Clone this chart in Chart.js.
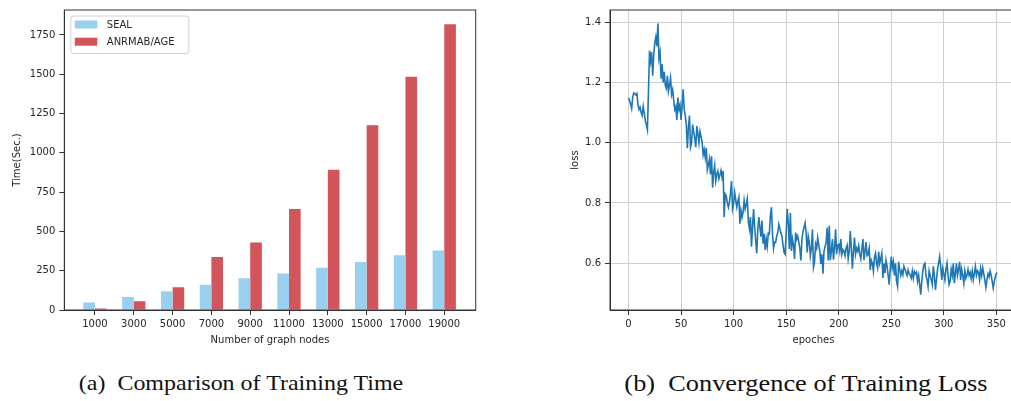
<!DOCTYPE html>
<html>
<head>
<meta charset="utf-8">
<script src="https://cdn.jsdelivr.net/npm/chart.js@4.4.1/dist/chart.umd.min.js"></script>
<style>
  html, body { margin: 0; background: #fff; overflow: hidden; }
  #page { position: relative; width: 1011px; height: 401px; overflow: hidden; }
  .box { position: absolute; top: 0; }
  .cap { position: absolute; top: 369px; width: 420px; text-align: center; line-height: 28px;
         font-family: 'Liberation Serif', serif; color: #111; white-space: pre; }
</style>
</head>
<body>
<div id="page">
<div class="box" style="left:0;width:500px;height:350px"><canvas id="timeChart" width="500" height="350"></canvas></div>
<div class="box" style="left:560px;width:520px;height:350px"><canvas id="lossChart" width="520" height="350"></canvas></div>
<div class="cap" style="left:31px;font-size:22px;transform:scaleX(1.09)">(a)  Comparison of Training Time</div>
<div class="cap" style="left:596px;font-size:24px;transform:scaleX(1.098)">(b)  Convergence of Training Loss</div>
</div>

<script>
// (a) training time per graph size
const nodeCounts = ['1000', '3000', '5000', '7000', '9000', '11000', '13000', '15000', '17000', '19000'];
const sealTime = [47, 83, 119, 160, 202, 233, 269, 306, 348, 379];
const anrmabTime = [10, 56, 144, 337, 429, 642, 892, 1175, 1484, 1818];
const timeTicks = [0, 250, 500, 750, 1000, 1250, 1500, 1750];

// (b) training loss per epoch
const lossTicks = [0.6, 0.8, 1.0, 1.2, 1.4];
const epochTicks = [0, 50, 100, 150, 200, 250, 300, 350];
const loss = [
  1.148, 1.140, 1.128, 1.113, 1.150, 1.165, 1.162, 1.158, 1.163, 1.125,
  1.110, 1.118, 1.100, 1.090, 1.120, 1.098, 1.072, 1.060, 1.043, 1.170,
  1.305, 1.270, 1.300, 1.222, 1.290, 1.330, 1.350, 1.320, 1.395, 1.280,
  1.300, 1.212, 1.260, 1.200, 1.235, 1.190, 1.180, 1.222, 1.170, 1.190,
  1.215, 1.160, 1.175, 1.140, 1.110, 1.120, 1.075, 1.150, 1.110, 1.125,
  1.075, 1.120, 1.177, 1.110, 1.090, 1.060, 0.982, 1.050, 1.090, 0.985,
  1.000, 1.060, 1.035, 1.015, 0.985, 1.055, 1.030, 1.000, 1.037, 1.020,
  1.004, 0.960, 0.977, 0.950, 0.983, 0.910, 0.928, 0.945, 0.895, 0.955,
  0.851, 0.900, 0.925, 0.873, 0.895, 0.906, 0.880, 0.893, 0.908, 0.885,
  0.906, 0.753, 0.830, 0.824, 0.800, 0.786, 0.802, 0.830, 0.873, 0.780,
  0.797, 0.835, 0.810, 0.786, 0.805, 0.819, 0.731, 0.775, 0.753, 0.770,
  0.808, 0.780, 0.795, 0.813, 0.740, 0.715, 0.753, 0.655, 0.720, 0.780,
  0.720, 0.677, 0.633, 0.710, 0.753, 0.720, 0.688, 0.742, 0.665, 0.698,
  0.644, 0.680, 0.655, 0.700, 0.698, 0.760, 0.786, 0.698, 0.649, 0.670,
  0.669, 0.690, 0.702, 0.729, 0.715, 0.700, 0.690, 0.660, 0.636, 0.630,
  0.700, 0.780, 0.735, 0.647, 0.767, 0.641, 0.680, 0.660, 0.614, 0.702,
  0.680, 0.690, 0.670, 0.650, 0.609, 0.680, 0.705, 0.720, 0.734, 0.700,
  0.636, 0.690, 0.670, 0.625, 0.650, 0.712, 0.587, 0.605, 0.663, 0.650,
  0.685, 0.660, 0.640, 0.598, 0.630, 0.565, 0.640, 0.655, 0.669, 0.718,
  0.609, 0.724, 0.610, 0.640, 0.680, 0.612, 0.650, 0.713, 0.630, 0.660,
  0.663, 0.640, 0.680, 0.630, 0.645, 0.640, 0.625, 0.650, 0.660, 0.615,
  0.640, 0.707, 0.650, 0.582, 0.640, 0.685, 0.630, 0.650, 0.640, 0.658,
  0.630, 0.615, 0.645, 0.680, 0.610, 0.640, 0.670, 0.625, 0.630, 0.650,
  0.578, 0.610, 0.600, 0.573, 0.620, 0.633, 0.600, 0.585, 0.638, 0.600,
  0.615, 0.633, 0.551, 0.600, 0.567, 0.610, 0.590, 0.560, 0.529, 0.580,
  0.622, 0.585, 0.605, 0.560, 0.600, 0.540, 0.523, 0.605, 0.580, 0.560,
  0.575, 0.562, 0.590, 0.580, 0.570, 0.560, 0.578, 0.565, 0.561, 0.551,
  0.575, 0.550, 0.573, 0.565, 0.570, 0.540, 0.560, 0.530, 0.496, 0.540,
  0.573, 0.595, 0.600, 0.560, 0.545, 0.523, 0.575, 0.560, 0.545, 0.529,
  0.590, 0.560, 0.512, 0.545, 0.580, 0.600, 0.622, 0.590, 0.545, 0.583,
  0.565, 0.545, 0.580, 0.600, 0.560, 0.529, 0.540, 0.580, 0.560, 0.600,
  0.534, 0.565, 0.600, 0.560, 0.580, 0.605, 0.545, 0.580, 0.560, 0.534,
  0.575, 0.550, 0.560, 0.580, 0.560, 0.570, 0.550, 0.575, 0.545, 0.565,
  0.590, 0.560, 0.575, 0.570, 0.545, 0.582, 0.560, 0.585, 0.565, 0.545,
  0.520, 0.545, 0.565, 0.555, 0.575, 0.560, 0.540, 0.518, 0.540, 0.555,
  0.567, 0.567
];

Chart.defaults.font.family = 'DejaVu Sans';
Chart.defaults.font.size = 10;
Chart.defaults.color = '#262626';
Chart.defaults.animation = false;

const spineColor = '#333';

// matplotlib-like box around the axes
const framePlugin = {
  id: 'frame',
  afterDraw(chart) {
    const { ctx, chartArea: a } = chart;
    ctx.save();
    ctx.strokeStyle = spineColor;
    ctx.lineWidth = 1;
    ctx.strokeRect(a.left, a.top, a.right - a.left, a.bottom - a.top);
    ctx.restore();
  }
};

// legend box in the upper left corner of the axes
const legendPlugin = {
  id: 'cornerLegend',
  afterDraw(chart) {
    const { ctx, chartArea: a } = chart;
    const x = a.left + 6.5, y = a.top + 6;
    ctx.save();
    ctx.fillStyle = 'rgba(255,255,255,0.8)';
    ctx.strokeStyle = '#d0d0d0';
    ctx.lineWidth = 1;
    ctx.beginPath();
    ctx.roundRect(x, y, 118, 37.5, 3);
    ctx.fill();
    ctx.stroke();
    chart.data.datasets.forEach((ds, i) => {
      const rowY = y + 4.5 + i * 17.2;
      ctx.fillStyle = ds.backgroundColor;
      ctx.fillRect(x + 4, rowY, 22.5, 8);
      ctx.fillStyle = '#262626';
      ctx.font = '10px "DejaVu Sans"';
      ctx.textBaseline = 'middle';
      ctx.fillText(ds.label, x + 36, rowY + 4.5);
    });
    ctx.restore();
  }
};

function fixedTicks(values) {
  return scale => { scale.ticks = values.map(v => ({ value: v })); };
}

new Chart(document.getElementById('timeChart'), {
  type: 'bar',
  data: {
    datasets: [
      { label: 'SEAL', data: sealTime.map((v, i) => ({ x: i, y: v })), backgroundColor: '#98d0ee' },
      { label: 'ANRMAB/AGE', data: anrmabTime.map((v, i) => ({ x: i, y: v })), backgroundColor: '#d1555a' }
    ]
  },
  options: {
    responsive: false,
    categoryPercentage: 0.6,
    barPercentage: 1.0,
    layout: { padding: { left: 7, right: 24.3, top: 4.7, bottom: 0 } },
    plugins: { legend: { display: false }, tooltip: { enabled: false } },
    scales: {
      x: {
        type: 'linear', min: -0.79, max: 9.81, offset: false,
        afterBuildTicks: fixedTicks(nodeCounts.map((_, i) => i)),
        afterFit: s => { s.height = 40; },
        ticks: { callback: v => nodeCounts[v], padding: 3, maxRotation: 0 },
        grid: { offset: false, drawOnChartArea: false, tickLength: 5, tickColor: spineColor },
        border: { color: spineColor },
        title: { display: true, text: 'Number of graph nodes', padding: { top: 0, bottom: 4 } }
      },
      y: {
        min: 0, max: 1909,
        afterBuildTicks: fixedTicks(timeTicks),
        afterFit: s => { s.width = 57.3; },
        ticks: { padding: 4, callback: v => String(v) },
        grid: { drawOnChartArea: false, tickLength: 5, tickColor: spineColor },
        border: { color: spineColor },
        title: { display: true, text: 'Time(Sec.)', padding: { top: 4, bottom: 0 } }
      }
    }
  },
  plugins: [framePlugin, legendPlugin]
});

new Chart(document.getElementById('lossChart'), {
  type: 'line',
  data: {
    datasets: [{
      label: 'loss',
      data: loss.map((v, i) => ({ x: i, y: v })),
      borderColor: '#1f77b4',
      borderWidth: 1.6,
      pointRadius: 0,
      tension: 0
    }]
  },
  options: {
    responsive: false,
    layout: { padding: { left: 5, right: 63, top: 7, bottom: 0 } },
    plugins: { legend: { display: false }, tooltip: { enabled: false } },
    scales: {
      x: {
        type: 'linear', min: -17.6, max: 369.6,
        afterBuildTicks: fixedTicks(epochTicks),
        afterFit: s => { s.height = 40; },
        ticks: { padding: 3, maxRotation: 0 },
        grid: { color: '#cfcfcf', tickLength: 5, tickColor: spineColor },
        border: { color: spineColor },
        title: { display: true, text: 'epoches', padding: { top: 0, bottom: 4 } }
      },
      y: {
        min: 0.445, max: 1.44,
        afterBuildTicks: fixedTicks(lossTicks),
        afterFit: s => { s.width = 45; },
        ticks: { padding: 4, callback: v => v.toFixed(1) },
        grid: { color: '#cfcfcf', tickLength: 5, tickColor: spineColor },
        border: { color: spineColor },
        title: { display: true, text: 'loss', padding: { top: 4, bottom: 0 } }
      }
    }
  },
  plugins: [framePlugin]
});
</script>
</body>
</html>
